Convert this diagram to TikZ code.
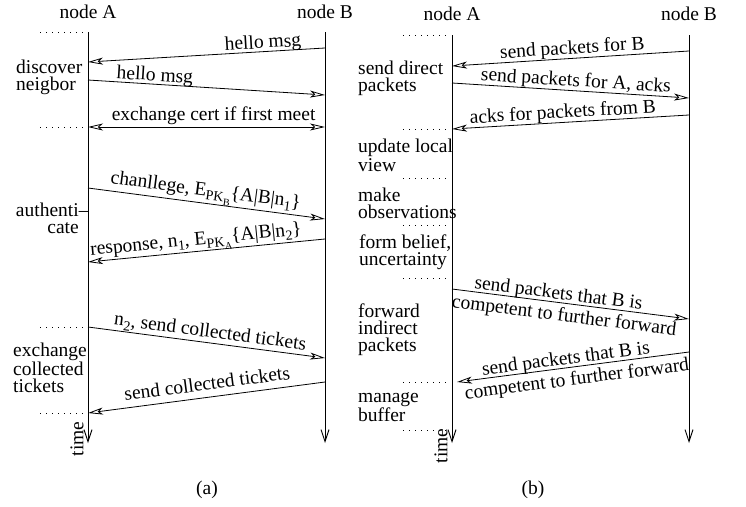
\documentclass[tikz,border=0pt]{standalone}
\usepackage{fontspec}
\setmainfont{Liberation Serif}
\usetikzlibrary{arrows.meta}
\newcommand{\sbs}[1]{\raisebox{-0.45ex}{\scalebox{0.72}{#1}}}
\begin{document}
\begin{tikzpicture}[x=1pt,y=-1pt,
  every node/.style={font=\fontsize{19.5}{16.8}\selectfont},
  life/.style={line width=0.9pt,-{Straight Barb[length=12pt,width=8pt]}},
  msg/.style={line width=0.8pt,-{Stealth[open,length=15pt,width=7pt,inset=4pt]}},
  msgb/.style={line width=0.8pt,{Stealth[open,length=15pt,width=7pt,inset=4pt]}-{Stealth[open,length=15pt,width=7pt,inset=4pt]}},
  lbl/.style={sloped,above,text depth=0pt,inner xsep=0pt,inner ysep=4pt},
  lblb/.style={sloped,below,inner xsep=0pt,inner ysep=4pt},
  dots/.style={line width=0.8pt,dash pattern=on 1pt off 5pt},
  side/.style={align=left,anchor=base west,inner sep=0pt},
]
\useasboundingbox (0,0) rectangle (746,506);

% ---------- (a) ----------
\node (hA) at (88,12) {node A};
\node (hB) at (325,12) {node B};
\coordinate (At) at (88,32);  \coordinate (Ab) at (88,443);
\coordinate (Bt) at (325,32); \coordinate (Bb) at (325,443);
\draw[life] (At) -- (Ab);
\draw[life] (Bt) -- (Bb);

\coordinate (d1s) at (40,32);  \coordinate (d1e) at (85,32);
\coordinate (d2s) at (40,127); \coordinate (d2e) at (85,127);
\coordinate (d3s) at (40,327); \coordinate (d3e) at (85,327);
\coordinate (d4s) at (40,413); \coordinate (d4e) at (85,413);
\draw[dots] (d1s) -- (d1e);
\draw[dots] (d2s) -- (d2e);
\draw[dots] (d3s) -- (d3e);
\draw[dots] (d4s) -- (d4e);

\coordinate (m1s) at (325,48);  \coordinate (m1e) at (88,62);
\coordinate (m2s) at (88,80);   \coordinate (m2e) at (325,95);
\coordinate (m3s) at (88,127);  \coordinate (m3e) at (325,127);
\coordinate (m4s) at (88,188);  \coordinate (m4e) at (325,219);
\coordinate (m5s) at (325,239); \coordinate (m5e) at (88,262);
\coordinate (m6s) at (88,327);  \coordinate (m6e) at (325,358);
\coordinate (m7s) at (325,382); \coordinate (m7e) at (88,413);

\draw[msg] (m1s) -- node[lbl,pos=0.26,inner ysep=3pt] (l1) {hello msg} (m1e);
\draw[msg] (m2s) -- node[lbl,pos=0.28,inner ysep=3pt] (l2) {hello msg} (m2e);
\draw[msgb] (m3s) -- node[lbl,pos=0.53,inner ysep=6pt] (l3) {exchange cert if first meet} (m3e);
\draw[msg] (m4s) -- node[lbl,pos=0.49,inner ysep=7pt] (l4) {chanllege, E\sbs{PK\sbs{B}}\{A|B|n\sbs{1}\}} (m4e);
\draw[msg] (m5s) -- node[lbl,pos=0.54,inner ysep=6pt] (l5) {response, n\sbs{1}, E\sbs{PK\sbs{A}}\{A|B|n\sbs{2}\}} (m5e);
\draw[msg] (m6s) -- node[lbl,pos=0.51,inner ysep=5pt] (l6) {n\sbs{2}, send collected tickets} (m6e);
\draw[msg] (m7s) -- node[lbl,pos=0.49,inner ysep=7pt] (l7) {send collected tickets} (m7e);

\node[side] (s1) at (16,90) {discover\\neigbor};
\node[align=right,anchor=base east,inner sep=0pt] (s2) at (79,233) {authenti\rlap{--}\\cate};
\node[side] (s3) at (13,392) {exchange\\collected\\tickets};
\node[rotate=90,inner sep=0pt] (tA) at (77,439) {time};
\node (ca) at (207,490) {(a)};

% ---------- (b) ----------
\node (hA2) at (452,14) {node A};
\node (hB2) at (689,14) {node B};
\coordinate (At2) at (452,35);  \coordinate (Ab2) at (452,443);
\coordinate (Bt2) at (689,35);  \coordinate (Bb2) at (689,443);
\draw[life] (At2) -- (Ab2);
\draw[life] (Bt2) -- (Bb2);

\foreach \y [count=\i] in {35,129,178,225,278,382,430}{
  \coordinate (e\i s) at (403,\y); \coordinate (e\i e) at (450,\y);
  \draw[dots] (e\i s) -- (e\i e);
}

\coordinate (n1s) at (689,51);  \coordinate (n1e) at (452,66);
\coordinate (n2s) at (452,83);  \coordinate (n2e) at (689,98);
\coordinate (n3s) at (689,115); \coordinate (n3e) at (452,129);
\coordinate (n4s) at (452,289); \coordinate (n4e) at (689,319);
\coordinate (n5s) at (689,352); \coordinate (n5e) at (457,382);

\draw[msg] (n1s) -- node[lbl,pos=0.49] (k1) {send packets for B} (n1e);
\draw[msg] (n2s) -- node[lbl,pos=0.52] (k2) {send packets for A, acks} (n2e);
\draw[msg] (n3s) -- node[lbl,pos=0.53] (k3) {acks for packets from B} (n3e);
\draw[msg] (n4s) -- node[lbl,pos=0.445,inner ysep=3pt] (k4a) {send packets that B is}
                    node[lblb,pos=0.48] (k4b) {competent to further forward} (n4e);
\draw[msg] (n5s) -- node[lbl,pos=0.526,inner ysep=3pt] (k5a) {send packets that B is}
                    node[lblb,pos=0.49] (k5b) {competent to further forward} (n5e);

\node[side] (r1) at (358,91) {send direct\\packets};
\node[side] (r2) at (358,171) {update local\\view};
\node[side] (r3) at (358,218) {make\\observations};
\node[side] (r4) at (359,265) {form belief,\\uncertainty};
\node[side] (r5) at (358,351) {forward\\indirect\\packets};
\node[side] (r6) at (358,421) {manage\\buffer};
\node[rotate=90,inner sep=0pt] (tB) at (441,446) {time};
\node (cb) at (533,490) {(b)};
\end{tikzpicture}
\end{document}
